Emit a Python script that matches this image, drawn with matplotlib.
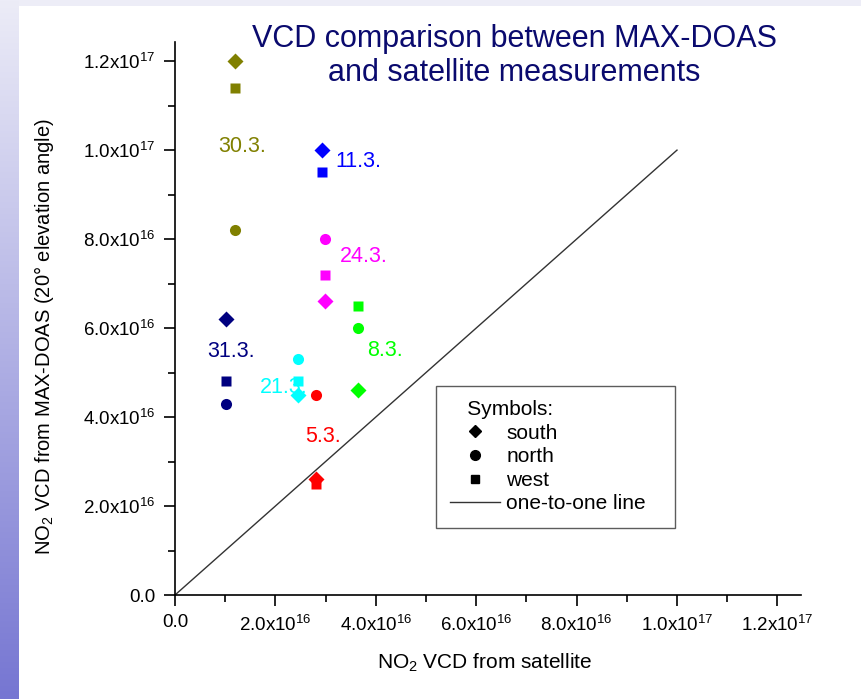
import matplotlib
matplotlib.use('Agg')
import matplotlib.pyplot as plt
import numpy as np
from matplotlib.ticker import MultipleLocator, FuncFormatter
from matplotlib.lines import Line2D

plt.rcParams['font.family'] = ['Liberation Sans', 'DejaVu Sans']
plt.rcParams['mathtext.fontset'] = 'custom'
plt.rcParams['mathtext.rm'] = 'Liberation Sans'
plt.rcParams['mathtext.it'] = 'Liberation Sans:italic'

# measurement days and their colours
days = ['30.3.', '11.3.', '24.3.', '8.3.', '31.3.', '21.3.', '5.3.']
colors = ['#808000', '#0000ff', '#ff00ff', '#00ff00', '#000080', '#00ffff', '#ff0000']

# satellite VCD (x) for each day
sat = [1.2e16, 2.93e16, 2.98e16, 3.65e16, 1.02e16, 2.45e16, 2.8e16]

# MAX-DOAS VCD per viewing direction
south = [1.2e17, 1.0e17, 6.6e16, 4.6e16, 6.2e16, 4.5e16, 2.6e16]
north = [8.2e16, None, 8.0e16, 6.0e16, 4.3e16, 5.3e16, 4.5e16]
west = [1.14e17, 9.5e16, 7.2e16, 6.5e16, 4.8e16, 4.8e16, 2.5e16]

# where the day labels sit (x, y in data units)
label_x = [0.86e16, 3.19e16, 3.29e16, 3.82e16, 0.64e16, 1.69e16, 2.59e16]
label_y = [1.007e17, 9.75e16, 7.6e16, 5.5e16, 5.48e16, 4.67e16, 3.57e16]

one_to_one = [0, 1e17]

fig = plt.figure(figsize=(8.61, 6.99), dpi=100, facecolor='white')

# slide decoration: light top band and blue gradient strip on the left
top = fig.add_axes([0, 1 - 6 / 699, 1, 6 / 699])
top.set_axis_off()
top.add_patch(plt.Rectangle((0, 0), 1, 1, color='#ededf7', transform=top.transAxes))
side = fig.add_axes([0, 0, 19 / 861, 1])
grad = np.linspace(0, 1, 256).reshape(-1, 1)
c0 = np.array([236, 236, 247]) / 255
c1 = np.array([118, 118, 210]) / 255
img = c0[None, None, :] * (1 - grad[:, :, None]) + c1[None, None, :] * grad[:, :, None]
side.imshow(img, aspect='auto', extent=[0, 1, 0, 1], origin='upper')
side.set_axis_off()

ax = fig.add_axes([175 / 861, 104 / 699, 626 / 861, 553 / 699])

ax.plot(one_to_one, one_to_one, color='#333333', lw=1.0, zorder=1)

for i in range(len(days)):
    ax.text(label_x[i], label_y[i], days[i], color=colors[i], fontsize=15.5,
            ha='left', va='center', zorder=2)
    ax.plot(sat[i], south[i], 'D', color=colors[i], ms=8, mec='none', zorder=3)
    if north[i] is not None:
        ax.plot(sat[i], north[i], 'o', color=colors[i], ms=8, mec='none', zorder=3)
    ax.plot(sat[i], west[i], 's', color=colors[i], ms=6.5, mec='none', zorder=3)

ax.set_xlim(0, 1.247e17)
ax.set_ylim(0, 1.243e17)
ax.spines['top'].set_visible(False)
ax.spines['right'].set_visible(False)
ax.spines['left'].set_linewidth(1.2)
ax.spines['bottom'].set_linewidth(1.2)

def sci(v, pos):
    if v < -1e10:
        return ''
    if abs(v) < 1e10:
        return '0.0'
    e = int(np.floor(np.log10(v) + 1e-9))
    m = v / 10 ** e
    return r'$\mathregular{%.1fx10^{%d}}$' % (m, e)

for a in (ax.xaxis, ax.yaxis):
    a.set_major_locator(MultipleLocator(2e16))
    a.set_minor_locator(MultipleLocator(1e16))
    a.set_major_formatter(FuncFormatter(sci))
ax.tick_params(which='major', direction='out', length=8, width=1.2, labelsize=13.5, pad=6)
ax.tick_params(which='minor', direction='out', length=5, width=1.2)

ax.set_xlabel(r'NO$_2$ VCD from satellite', fontsize=15)
ax.set_ylabel(u'NO$_2$ VCD from MAX-DOAS (20\u00b0 elevation angle)', fontsize=14.5)
ax.xaxis.set_label_coords(0.494, -0.103)
ax.yaxis.set_label_coords(-0.19, 0.468)

handles = [Line2D([], [], marker='D', color='black', ls='none', ms=6.5),
           Line2D([], [], marker='o', color='black', ls='none', ms=7),
           Line2D([], [], marker='s', color='black', ls='none', ms=5.5),
           Line2D([], [], color='#333333', lw=1.0)]
leg = ax.legend(handles, ['south', 'north', 'west', 'one-to-one line'],
                title='   Symbols:', title_fontsize=15, fontsize=15,
                loc='upper left', bbox_to_anchor=(0.417, 0.127, 0.382, 0.251),
                mode='expand', frameon=True, fancybox=False, edgecolor='#333333',
                handlelength=2.4, handletextpad=0.3, labelspacing=0.22,
                borderpad=0.68, borderaxespad=0)
leg._legend_box.align = 'left'
leg.get_frame().set_linewidth(1.0)

fig.text(0.597, 1 - 56 / 699, 'VCD comparison between MAX-DOAS\nand satellite measurements',
         color='#0a0a6e', fontsize=22, ha='center', va='center', linespacing=1.15)

fig.savefig('out.png', dpi=100, facecolor='white')
